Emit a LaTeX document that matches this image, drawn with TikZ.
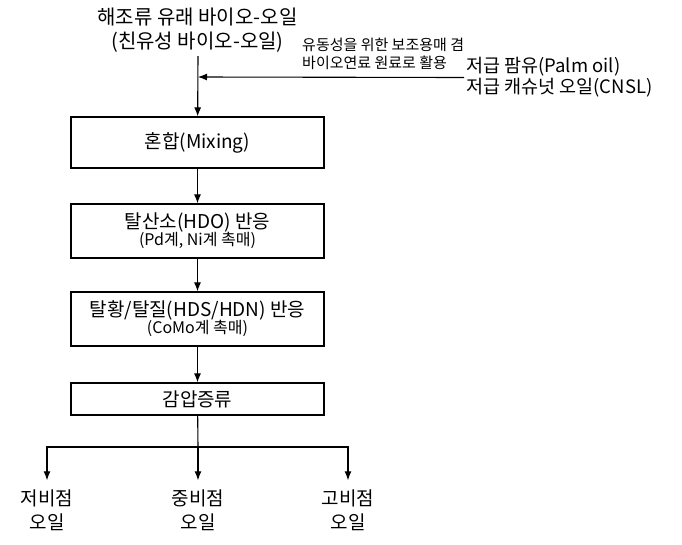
\documentclass[tikz,border=0pt]{standalone}
\usepackage{fontspec}
\setmainfont{Noto Sans CJK KR}
\usetikzlibrary{arrows.meta}

\begin{document}
\begin{tikzpicture}[
	x=1pt, y=-1pt,
	big/.style={font=\fontsize{19}{23.5}\selectfont},
	note/.style={font=\fontsize{15}{18}\selectfont},
	box/.style={draw, line width=1.2pt, minimum width=253pt, inner sep=0pt, align=center},
	flow/.style={line width=1.1pt, -{Latex[length=9pt,width=7pt]}}
]
\useasboundingbox (0,0) rectangle (682,544);
% inputs
\node[font=\fontsize{20}{23.5}\selectfont, align=center] (src) at (197.5,30) {해조류 유래 바이오-오일\\(친유성 바이오-오일)};
\coordinate (top) at (198,56);
\coordinate (join) at (198,77);
\node[align=left, anchor=west, inner sep=2pt, font=\fontsize{18.5}{21}\selectfont] (feed) at (464,77.5) {저급 팜유(Palm oil)\\저급 캐슈넛 오일(CNSL)};
\node[note, align=left, anchor=west, inner sep=2pt] (use) at (300,54) {유동성을 위한 보조용매 겸\\바이오연료 원료로 활용};
% process
\node[box, big, minimum height=51pt] (mix) at (197.5,142.5) {혼합(Mixing)};
\node[box, minimum height=54pt] (hdo) at (197.5,231) {{\fontsize{19}{21}\selectfont 탈산소(HDO) 반응}\\[-1pt]{\fontsize{16}{18}\selectfont (Pd계, Ni계 촉매)}};
\node[box, minimum height=54pt] (hds) at (197.5,319) {{\fontsize{19}{21}\selectfont 탈황/탈질(HDS/HDN) 반응}\\[-1pt]{\fontsize{16}{18}\selectfont (CoMo계 촉매)}};
\node[box, big, minimum height=32pt] (dist) at (197.5,399) {감압증류};
\coordinate (split) at (198,447);
% products
\node[big, align=center, inner sep=0pt, outer sep=10pt] (low) at (47,510.5) {저비점\\오일};
\node[big, align=center, inner sep=0pt, outer sep=10pt] (mid) at (198,510.5) {중비점\\오일};
\node[big, align=center, inner sep=0pt, outer sep=10pt] (high) at (348,510.5) {고비점\\오일};

\draw[flow] (top) -- (mix);
\draw[flow] (feed.west) -- (join);
\draw[flow] (mix) -- (hdo);
\draw[flow] (hdo) -- (hds);
\draw[flow] (hds) -- (dist);
\draw[line width=1.1pt] (dist) -- (split);
\draw[flow] (split) -| (low);
\draw[flow] (split) -- (mid);
\draw[flow] (split) -| (high);
\end{tikzpicture}
\end{document}
